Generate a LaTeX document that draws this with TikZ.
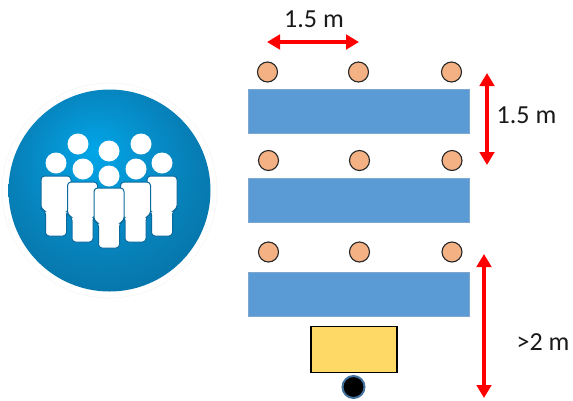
\documentclass[tikz,border=0pt]{standalone}
\usepackage{fontspec}
\setmainfont{Carlito}
\usetikzlibrary{arrows.meta,shadings}
\definecolor{tablefill}{HTML}{5B9BD5}
\definecolor{tableedge}{HTML}{7FA6CC}
\definecolor{seat}{HTML}{F4B183}
\definecolor{desk}{HTML}{FFD966}
\definecolor{camring}{HTML}{41719C}
\definecolor{personedge}{HTML}{0A6A9C}
\definecolor{ballA}{HTML}{00A6E8}
\definecolor{ballB}{HTML}{0594D2}
\definecolor{ballC}{HTML}{0780B8}
\definecolor{ballD}{HTML}{0673A8}
\pgfdeclareradialshading{badgeball}{\pgfpoint{-4bp}{10bp}}{
  color(0bp)=(ballA);
  color(10bp)=(ballB);
  color(22bp)=(ballC);
  color(32bp)=(ballD);
  color(50bp)=(ballD)}
\tikzset{
  tablebox/.style={draw=tableedge,line width=0.8pt,fill=tablefill,minimum width=220.5pt,minimum height=44pt,inner sep=0pt,anchor=north west},
  seatdot/.style={circle,draw=black!85,line width=1.1pt,fill=seat,minimum size=20pt,inner sep=0pt},
  span/.style={draw=red,line width=4pt,{Triangle[length=13pt,width=14.5pt]}-{Triangle[length=13pt,width=14.5pt]}},
  label/.style={font=\fontsize{26}{30}\selectfont,text=black!90,inner sep=0pt},
  head/.style={circle,fill=white,minimum size=21pt,inner sep=0pt},
  body/.style={fill=white,draw=personedge,line width=1pt,rounded corners=3.5pt},
}
\newcommand{\personbody}[2]{% centre x, top y
  \path[body] (#1-15,#2) -- (#1+15,#2) -- (#1+15,#2+33) -- (#1+10.5,#2+35) -- (#1+10.5,#2+60) -- (#1-10.5,#2+60) -- (#1-10.5,#2+35) -- (#1-15,#2+33) -- cycle;
}
\begin{document}
\begin{tikzpicture}[x=1pt,y=-1pt]
\useasboundingbox (0,0) rectangle (573,400);
% badge
\node[circle,draw=black!4,line width=0.6pt,minimum size=215pt,inner sep=0pt] (halo) at (109.5,190.5) {};
\shade[shading=badgeball] (109.5,190.5) circle[radius=101pt];
\node[head] (h1) at (78,144) {};
\node[head] (h2) at (141,144) {};
\node[head] (h3) at (109,151) {};
\node[head] (h4) at (56,163) {};
\node[head] (h5) at (162,163) {};
\personbody{56}{176}
\personbody{162}{176}
\node[head] (h6) at (83,169) {};
\node[head] (h7) at (136,169) {};
\personbody{82.5}{182}
\personbody{135.5}{182}
\node[head] (h8) at (109,176) {};
\personbody{109}{188}
% tables
\node[tablebox] (t1) at (248,89) {};
\node[tablebox] (t2) at (248,178) {};
\node[tablebox] (t3) at (248,271.5) {};
% seats
\node[seatdot] (s11) at (267.5,72) {};
\node[seatdot] (s12) at (358.5,72) {};
\node[seatdot] (s13) at (451.5,72) {};
\node[seatdot] (s21) at (268.5,160.5) {};
\node[seatdot] (s22) at (359.5,160.5) {};
\node[seatdot] (s23) at (452,160.5) {};
\node[seatdot] (s31) at (268.5,252) {};
\node[seatdot] (s32) at (359.5,252) {};
\node[seatdot] (s33) at (452,252) {};
% desk and teacher
\node[draw=black,line width=1.4pt,fill=desk,minimum width=86pt,minimum height=45.5pt,inner sep=0pt] (desk) at (354,349.5) {};
\node[circle,draw=camring,line width=2pt,fill=black,minimum size=22pt,inner sep=0pt] (cam) at (353.5,387) {};
% dimensions
\coordinate (a1) at (267,42);
\coordinate (a2) at (359,42);
\coordinate (b1) at (487,73);
\coordinate (b2) at (487,165);
\coordinate (c1) at (484,254);
\coordinate (c2) at (484,398);
\draw[span] (a1) -- (a2);
\draw[span] (b1) -- (b2);
\draw[span] (c1) -- (c2);
\node[label] (l1) at (314,19) {1.5 m};
\node[label] (l2) at (526.5,115) {1.5 m};
\node[label] (l3) at (543,342) {>2 m};
\end{tikzpicture}
\end{document}
